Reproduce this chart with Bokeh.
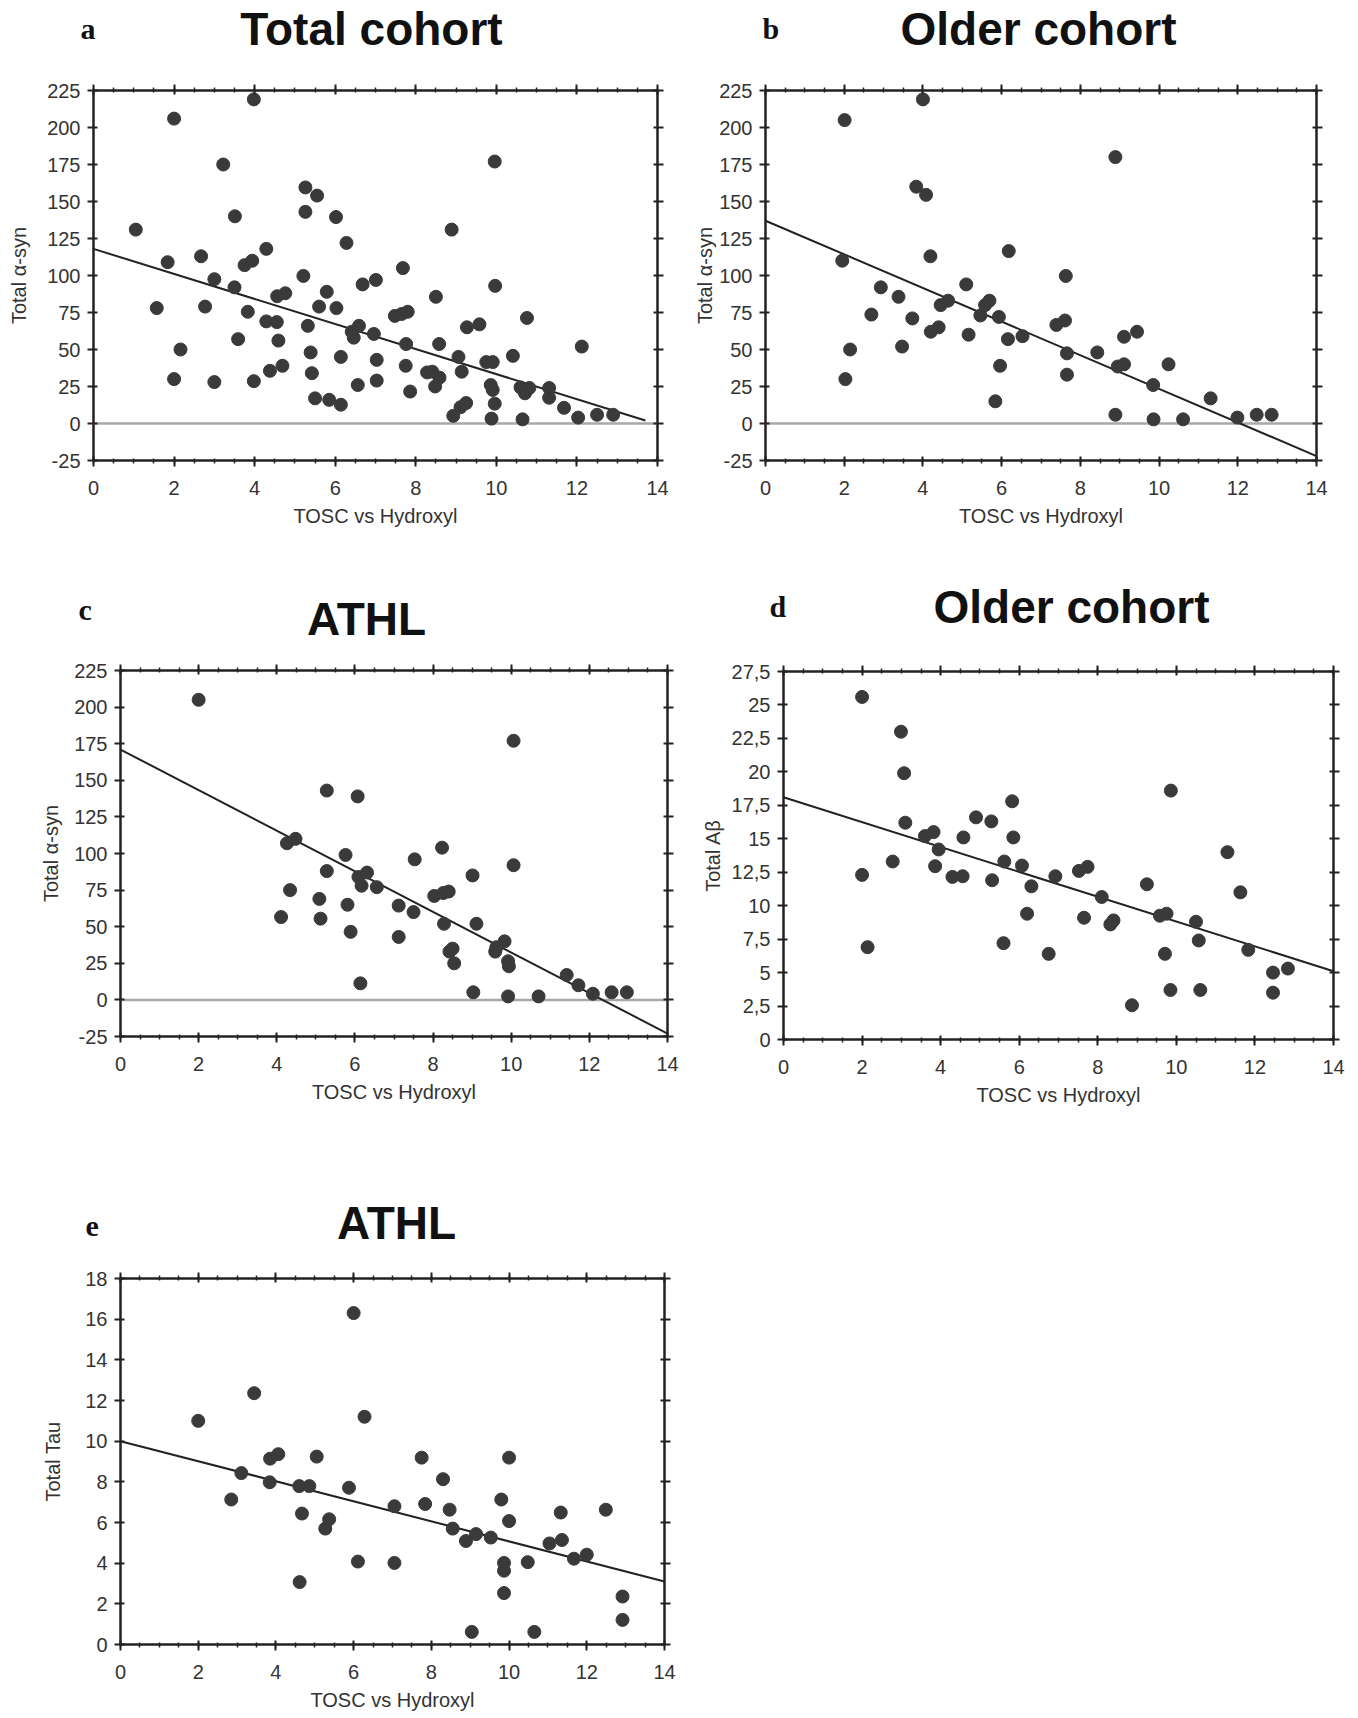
from bokeh.plotting import figure
from bokeh.models import Range1d, FixedTicker, LinearAxis, Span, CustomJSTickFormatter
from bokeh.core.properties import value
from bokeh.layouts import column, row
from bokeh.embed import file_html
from bokeh.resources import INLINE

# ---------------- data ----------------
x_ticks = [0, 2, 4, 6, 8, 10, 12, 14]
syn_ticks = [-25, 0, 25, 50, 75, 100, 125, 150, 175, 200, 225]
syn_tick_labels = ["-25", "0", "25", "50", "75", "100", "125", "150", "175", "200", "225"]
ab_ticks = [0, 2.5, 5, 7.5, 10, 12.5, 15, 17.5, 20, 22.5, 25, 27.5]
ab_tick_labels = ["0", "2,5", "5", "7,5", "10", "12,5", "15", "17,5", "20", "22,5", "25", "27,5"]
tau_ticks = [0, 2, 4, 6, 8, 10, 12, 14, 16, 18]

# a: Total cohort, total alpha-syn
a_x = [1.05, 1.57, 1.84, 2.0, 2.0, 2.16, 2.67, 2.77, 3.0, 3.0,
       3.22, 3.5, 3.51, 3.59, 3.75, 3.94, 3.83, 3.98, 3.98, 4.29,
       4.29, 4.55, 4.56, 4.76, 4.59, 4.38, 4.69, 5.21, 5.26, 5.26,
       5.55, 5.32, 5.39, 5.42, 5.5, 5.6, 5.79, 5.85, 6.02, 6.03,
       6.14, 6.14, 6.28, 6.41, 6.59, 6.46, 6.68, 6.56, 7.01, 6.96,
       7.03, 7.03, 7.48, 7.65, 7.8, 7.68, 7.76, 7.75, 7.86, 8.28,
       8.5, 8.58, 8.41, 8.48, 8.59, 8.89, 8.93, 9.06, 9.14, 9.11,
       9.25, 9.27, 9.58, 9.75, 9.91, 9.86, 9.91, 9.96, 9.97, 9.96,
       9.88, 10.41, 10.6, 10.71, 10.65, 10.76, 10.82, 11.31, 11.31, 11.68,
       12.03, 12.12, 12.5, 12.9]
a_y = [131, 78, 109, 206, 30, 50, 113, 79, 97.5, 28,
       175, 92, 140, 57, 107, 110, 75.5, 219, 28.6, 118,
       69, 68.5, 86, 88, 56, 35.6, 39, 99.7, 143, 159.5,
       154, 66, 48, 34, 17, 79, 89, 16, 139.5, 78,
       12.7, 45, 122, 62, 66, 58, 94, 26, 97, 60.5,
       43, 29, 72.7, 74, 75.5, 105, 53.7, 39, 21.6, 34.5,
       85.6, 53.7, 35, 25, 31, 131, 5.2, 45, 35, 11,
       13.8, 65, 67, 41.5, 41.5, 26, 22.7, 177, 93, 13.4,
       3.3, 45.7, 24.4, 20.4, 2.8, 71.3, 24, 24, 17.4, 10.6,
       4, 52, 5.9, 5.9]
a_fit_x = [0, 13.7]
a_fit_y = [118, 2]

# b: Older cohort, total alpha-syn
b_x = [2.01, 1.95, 2.03, 2.15, 2.69, 2.93, 3.38, 3.47, 3.73, 3.83,
       4.08, 4.0, 4.19, 4.2, 4.4, 4.45, 4.64, 5.1, 5.16, 5.46,
       5.58, 5.69, 5.84, 5.93, 5.96, 6.18, 6.16, 6.53, 7.39, 7.61,
       7.63, 7.66, 7.66, 8.43, 8.89, 8.89, 8.95, 9.11, 9.11, 9.44,
       9.85, 9.86, 10.24, 10.61, 11.31, 11.99, 12.48, 12.86]
b_y = [205, 110, 30, 50, 73.6, 92, 85.6, 52, 71, 160,
       154.5, 219, 113, 62, 65, 80, 83, 94, 60, 73,
       80, 83, 15, 72, 39, 116.5, 57, 59, 66.6, 69.6,
       99.7, 47.4, 33, 48, 180, 5.9, 38.5, 40, 58.6, 62,
       26, 2.8, 40, 2.8, 17, 4, 5.9, 5.9]
b_fit_x = [0, 14]
b_fit_y = [137, -22]

# c: ATHL, total alpha-syn
c_x = [2.0, 4.11, 4.26, 4.48, 4.34, 5.09, 5.12, 5.28, 5.28, 5.76,
       5.81, 5.89, 6.07, 6.09, 6.17, 6.31, 6.14, 6.56, 7.12, 7.12,
       7.5, 7.53, 8.03, 8.23, 8.26, 8.4, 8.28, 8.42, 8.5, 8.54,
       9.01, 9.03, 9.11, 9.59, 9.62, 9.83, 9.92, 9.94, 9.92, 10.06,
       10.06, 10.7, 11.42, 11.72, 12.09, 12.57, 12.96]
c_y = [205, 56.6, 107, 110, 75, 69, 55.5, 88, 143, 99,
       65, 46.5, 139, 84, 78, 87, 11.3, 77, 64.4, 43,
       60, 96, 71, 104, 73, 74, 52, 33, 35, 25,
       85, 5.2, 52, 33, 36, 40, 26.4, 23, 2.4, 92,
       177, 2.4, 17, 10, 4.2, 5.2, 5.2]
c_fit_x = [0, 14]
c_fit_y = [171, -23]

# d: Older cohort, total A-beta
d_x = [2.0, 2.0, 2.14, 2.78, 2.99, 3.07, 3.1, 3.6, 3.82, 3.86,
       3.95, 4.3, 4.56, 4.58, 4.9, 5.29, 5.31, 5.6, 5.62, 5.82,
       5.85, 6.07, 6.2, 6.31, 6.75, 6.92, 7.52, 7.74, 7.65, 8.1,
       8.32, 8.4, 8.87, 9.25, 9.58, 9.75, 9.71, 9.86, 9.85, 10.5,
       10.57, 10.61, 11.3, 11.63, 11.83, 12.46, 12.46, 12.84]
d_y = [25.6, 12.3, 6.9, 13.3, 23.0, 19.9, 16.2, 15.2, 15.5, 12.95,
       14.2, 12.15, 12.2, 15.1, 16.6, 16.3, 11.9, 7.2, 13.3, 17.8,
       15.1, 13.0, 9.4, 11.45, 6.4, 12.2, 12.6, 12.9, 9.1, 10.65,
       8.6, 8.9, 2.56, 11.6, 9.25, 9.4, 6.4, 18.6, 3.7, 8.8,
       7.4, 3.7, 14.0, 11.0, 6.7, 5.0, 3.5, 5.3]
d_fit_x = [0, 14]
d_fit_y = [18.1, 5.1]

# e: ATHL, total Tau
e_x = [2.0, 2.85, 3.11, 3.44, 3.84, 3.85, 4.06, 4.6, 4.86, 4.67,
       4.61, 5.05, 5.27, 5.37, 5.88, 6.0, 6.11, 6.28, 7.05, 7.05,
       7.75, 7.84, 8.3, 8.47, 8.55, 8.89, 9.15, 9.04, 9.53, 9.8,
       9.87, 9.87, 9.87, 10.0, 10.0, 10.48, 10.65, 11.04, 11.36, 11.33,
       11.67, 12.0, 12.49, 12.92, 12.92]
e_y = [11.0, 7.13, 8.43, 12.36, 7.98, 9.14, 9.36, 7.79, 7.79, 6.44,
       3.07, 9.24, 5.7, 6.16, 7.71, 16.3, 4.08, 11.2, 6.8, 4.01,
       9.19, 6.91, 8.13, 6.63, 5.7, 5.09, 5.43, 0.62, 5.26, 7.13,
       4.01, 3.63, 2.53, 9.19, 6.07, 4.05, 0.62, 4.97, 5.14, 6.49,
       4.22, 4.42, 6.63, 2.36, 1.21]
e_fit_x = [0, 14]
e_fit_y = [10.0, 3.1]

x_minor = [i * 0.5 for i in range(29)]

FONT = "Liberation Sans"
INK = "#222222"
TXT = "#333333"
DOT = "#3a3a3a"
TITLE_SHIFT = 19
LETTER_SHIFT = 10


def style_axis(ax, show_labels=True):
    ax.axis_line_color = INK
    ax.axis_line_width = 2
    ax.major_tick_line_color = INK
    ax.major_tick_line_width = 2
    ax.major_tick_in = 4
    ax.major_tick_out = 6
    ax.minor_tick_line_color = INK
    ax.minor_tick_line_width = 1.5
    ax.minor_tick_in = 2
    ax.minor_tick_out = 3
    ax.major_label_text_font = FONT
    ax.major_label_text_font_size = "20px"
    ax.major_label_text_color = TXT
    ax.axis_label_text_font = FONT
    ax.axis_label_text_font_size = "20px"
    ax.axis_label_text_font_style = "normal"
    ax.axis_label_text_color = TXT
    if not show_labels:
        ax.formatter = CustomJSTickFormatter(code="return ''")
        ax.major_label_standoff = 0


def header(width, height, title, tx, tb, letter, lx, lb):
    h = figure(width=width, height=height, output_backend="svg",
               toolbar_location=None, x_range=Range1d(0, width),
               y_range=Range1d(0, height), x_axis_location=None,
               y_axis_location=None, min_border=0, min_border_left=0,
               min_border_right=0, min_border_top=0, min_border_bottom=0,
               frame_align=False)
    h.outline_line_color = None
    h.grid.grid_line_color = None
    h.border_fill_color = "white"
    h.text(x=[tx], y=[height - tb + TITLE_SHIFT], text=[title], text_font=value(FONT),
           text_font_size=value("46px"), text_font_style="bold",
           text_color="#111111", text_align="center", text_baseline="alphabetic")
    h.text(x=[lx], y=[height - lb + LETTER_SHIFT], text=[letter],
           text_font=value("Liberation Serif"),
           text_font_size=value("30px"), text_font_style="bold",
           text_color="#111111", text_align="left", text_baseline="alphabetic")
    return h


def panel(xs, ys, fx, fy, y0, y1, yticks, ylabel,
          width, height, bl, br, bt, bb, ylab_standoff,
          zero_line=True, ylabel_over=None):
    p = figure(width=width, height=height, output_backend="svg",
               toolbar_location=None, x_range=Range1d(0, 14),
               y_range=Range1d(y0, y1), x_axis_label="TOSC vs Hydroxyl",
               y_axis_label=ylabel,
               min_border_left=bl, min_border_right=br,
               min_border_top=bt, min_border_bottom=bb, frame_align=False)
    p.grid.grid_line_color = None
    p.outline_line_color = INK
    p.outline_line_width = 2
    p.background_fill_color = "white"
    p.border_fill_color = "white"

    p.xaxis.ticker = FixedTicker(ticks=x_ticks, minor_ticks=x_minor)
    p.yaxis.ticker = FixedTicker(ticks=yticks, minor_ticks=[])
    for ax in p.xaxis:
        style_axis(ax)
        ax.major_label_standoff = 14
        ax.axis_label_standoff = 7
    for ax in p.yaxis:
        style_axis(ax)
        ax.major_label_standoff = 7
        ax.axis_label_standoff = ylab_standoff
        if ylabel_over:
            ax.major_label_overrides = ylabel_over

    top = LinearAxis(ticker=FixedTicker(ticks=x_ticks, minor_ticks=x_minor))
    style_axis(top, show_labels=False)
    p.add_layout(top, "above")
    right = LinearAxis(ticker=FixedTicker(ticks=yticks, minor_ticks=[]))
    style_axis(right, show_labels=False)
    p.add_layout(right, "right")

    if zero_line:
        p.add_layout(Span(location=0, dimension="width", line_color="#a8a8a8",
                          line_width=2.5, level="underlay"))

    p.line(fx, fy, line_color=INK, line_width=2)
    p.scatter(xs, ys, size=13, marker="circle", fill_color=DOT, line_color=DOT)
    return p


syn_over = {t: l for t, l in zip(syn_ticks, syn_tick_labels)}
ab_over = {t: l for t, l in zip(ab_ticks, ab_tick_labels)}

ha = header(690, 68, "Total cohort", 371, 47, "a", 80, 38)
pa = panel(a_x, a_y, a_fit_x, a_fit_y, -25, 225, syn_ticks, "Total α-syn",
           690, 472, 93, 33, 22, 80, 14, ylabel_over=syn_over)
hb = header(660, 68, "Older cohort", 348, 47, "b", 72, 38)
pb = panel(b_x, b_y, b_fit_x, b_fit_y, -25, 225, syn_ticks, "Total α-syn",
           660, 472, 75, 34, 22, 80, 0, ylabel_over=syn_over)

hc = header(690, 110, "ATHL", 366, 97, "c", 78, 79)
pc = panel(c_x, c_y, c_fit_x, c_fit_y, -25, 225, syn_ticks, "Total α-syn",
           690, 468, 120, 23, 20, 82, 9, ylabel_over=syn_over)
hd = header(660, 110, "Older cohort", 381, 85, "d", 79, 76)
pd_ = panel(d_x, d_y, d_fit_x, d_fit_y, 0, 27.5, ab_ticks, "Total Aβ",
            660, 468, 93, 17, 21, 79, 5, zero_line=False, ylabel_over=ab_over)

he = header(690, 140, "ATHL", 396, 123, "e", 85, 118)
pe = panel(e_x, e_y, e_fit_x, e_fit_y, 0, 18, tau_ticks, "Total Tau",
           690, 456, 120, 26, 20, 70, 18, zero_line=False)

layout = column(
    row(column(ha, pa), column(hb, pb)),
    row(column(hc, pc), column(hd, pd_)),
    row(column(he, pe)),
)

open("out.html", "w").write(file_html(layout, INLINE))
